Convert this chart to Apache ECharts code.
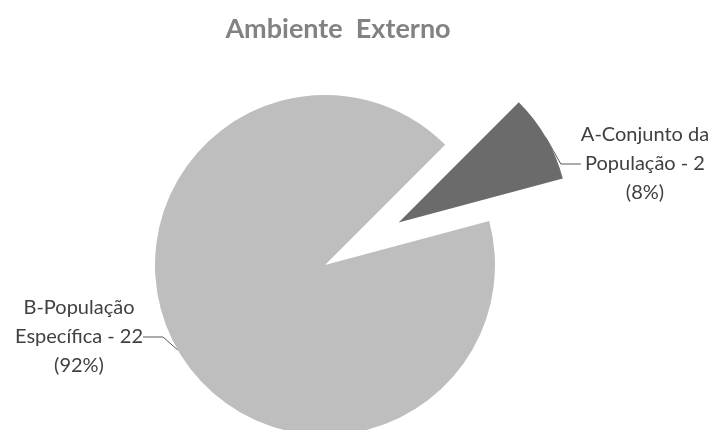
<!DOCTYPE html>
<html>
<head>
<meta charset="utf-8">
<script src="https://cdn.jsdelivr.net/npm/echarts@6/dist/echarts.min.js"></script>
<style>
  html, body { margin: 0; padding: 0; background: #fff; }
  #chart { width: 715px; height: 430px; }
</style>
</head>
<body>
<div id="chart"></div>
<script>
// dados do gráfico
const categories = ['A-Conjunto da\nPopulação', 'B-População\nEspecífica'];
const values = [2, 22];
const colors = ['#6b6b6b', '#bebebe'];
const exploded = [true, false];

const myChart = echarts.init(document.getElementById('chart'));

const cx = 325, cy = 265, R = 170, startAngle = 45, explodeDist = 85;
// posição do centro de cada rótulo
const labelPos = [[645, 164], [79, 337]];

const total = values.reduce((a, b) => a + b, 0);

// uma série por fatia, para poder afastar a fatia destacada
const series = categories.map((name, k) => {
  let before = 0;
  for (let i = 0; i < k; i++) before += values[i];
  const mid = (startAngle - ((before + values[k] / 2) / total) * 360) * Math.PI / 180;
  const d = exploded[k] ? explodeDist : 0;
  return {
    type: 'pie',
    name,
    center: [cx + d * Math.cos(mid), cy - d * Math.sin(mid)],
    radius: R,
    startAngle,
    clockwise: true,
    silent: true,
    avoidLabelOverlap: false,
    label: {
      position: 'outside',
      fontFamily: 'Lato',
      fontSize: 20,
      lineHeight: 29,
      color: '#404040',
      formatter: p => `${p.name} - ${p.value}\n(${Math.round(p.percent)}%)`,
    },
    labelLine: {
      length: 6,
      length2: 20,
      lineStyle: { color: '#595959', width: 1 },
    },
    labelLayout: p => ({
      x: labelPos[k][0],
      y: labelPos[k][1],
      align: 'center',
      verticalAlign: 'middle',
    }),
    data: categories.map((n, i) => ({
      name: n,
      value: values[i],
      itemStyle: { color: i === k ? colors[i] : 'rgba(0,0,0,0)' },
      label: { show: i === k },
      labelLine: { show: i === k },
    })),
  };
});

myChart.setOption({
  animation: false,
  title: {
    text: 'Ambiente  Externo',
    left: 333,
    top: 11,
    textAlign: 'center',
    textStyle: {
      fontFamily: 'Lato',
      fontSize: 27,
      fontWeight: 'bold',
      color: '#828282',
    },
  },
  series,
});
</script>
</body>
</html>
